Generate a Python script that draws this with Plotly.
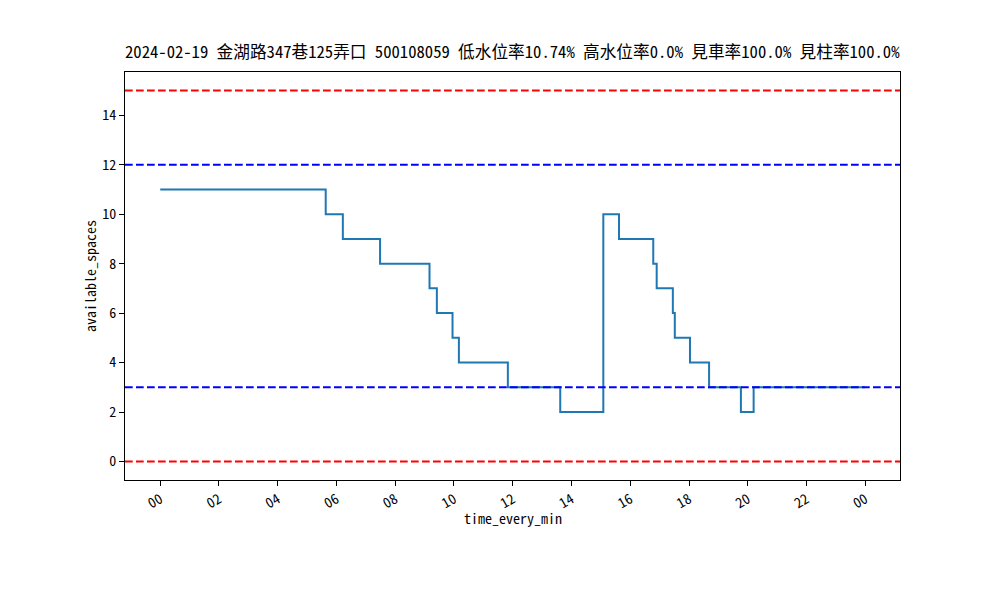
import plotly.graph_objects as go
import pandas as pd

# change points (time of day) and available spaces after each change
change_times = ["00:00", "05:38", "06:13", "07:29", "09:10", "09:25", "09:57", "10:10",
                "11:50", "13:37", "15:05", "15:37", "16:47", "16:54", "17:27", "17:31",
                "18:02", "18:41", "19:46", "20:12", "23:59"]
available_spaces = [11, 10, 9, 8, 7, 6, 5, 4,
                    3, 2, 10, 9, 8, 7, 6, 5,
                    4, 3, 2, 3, 3]

red_levels = [15, 0]
blue_levels = [12, 3]

date = "2024-02-19"
title_text = "2024-02-19 金湖路347巷125弄口 500108059 低水位率10.74% 高水位率0.0% 見車率100.0% 見柱率100.0%"
x_label = "time_every_min"
y_label = "available_spaces"

times = pd.to_datetime([f"{date} {t}" for t in change_times])

FONT = "Noto Sans Mono CJK SC, Noto Sans CJK SC, Noto Sans, sans-serif"

fig = go.Figure()
fig.add_trace(go.Scatter(
    x=times, y=available_spaces, mode="lines",
    line=dict(color="#1f77b4", width=2, shape="hv"),
    showlegend=False, hoverinfo="skip"))

shapes = []
for lv in red_levels:
    shapes.append(dict(type="line", xref="paper", x0=0, x1=1, yref="y", y0=lv, y1=lv,
                       line=dict(color="red", width=2, dash="7.7px,3.3px"), layer="above"))
for lv in blue_levels:
    shapes.append(dict(type="line", xref="paper", x0=0, x1=1, yref="y", y0=lv, y1=lv,
                       line=dict(color="blue", width=2, dash="7.7px,3.3px"), layer="above"))

t0 = times[0]
t1 = times[-1]
span = t1 - t0
xr = [t0 - span * 0.05, t1 + span * 0.05]

tickvals = pd.date_range(f"{date} 00:00", periods=13, freq="2h")

fig.update_layout(
    width=1000, height=600,
    margin=dict(l=125, r=100, t=72, b=120),
    paper_bgcolor="white", plot_bgcolor="white",
    font=dict(family=FONT, size=14, color="black"),
    shapes=shapes,
    xaxis=dict(range=xr, tickvals=tickvals, ticktext=[d.strftime("%H") for d in tickvals],
               tickangle=-30, ticks="outside", ticklen=5, tickwidth=1, tickcolor="black",
               showline=True, linecolor="black", linewidth=1, mirror=True,
               showgrid=False, zeroline=False, tickfont=dict(size=14)),
    yaxis=dict(range=[-0.75, 15.75], tickvals=[0, 2, 4, 6, 8, 10, 12, 14],
               ticks="outside", ticklen=5, tickwidth=1, tickcolor="black",
               showline=True, linecolor="black", linewidth=1, mirror=True,
               showgrid=False, zeroline=False, tickfont=dict(size=14)),
    annotations=[
        dict(text=title_text, xref="paper", yref="paper", x=0.5, y=1, yshift=7,
             xanchor="center", yanchor="bottom", showarrow=False,
             font=dict(family=FONT, size=16.67)),
        dict(text=x_label, xref="paper", yref="paper", x=0.5, y=0, yshift=-38,
             xanchor="center", yanchor="middle", showarrow=False, font=dict(size=14)),
        dict(text=y_label, xref="paper", yref="paper", x=0, y=0.5, xshift=-35,
             xanchor="center", yanchor="middle", textangle=-90, showarrow=False,
             font=dict(size=14)),
    ],
)

fig.write_html("out.html")
